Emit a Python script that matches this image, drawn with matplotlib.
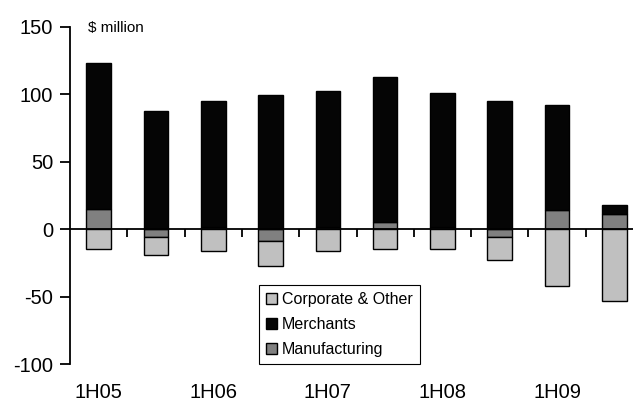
import matplotlib
matplotlib.use("Agg")
import matplotlib.pyplot as plt
import numpy as np

periods = ["1H05", "2H05", "1H06", "2H06", "1H07", "2H07", "1H08", "2H08", "1H09", "2H09"]
merchants = [108, 88, 93, 99.5, 100.5, 108, 99, 95, 78, 7]
manufacturing = [15, -6, 2, -9, 2, 5, 2, -6, 14, 11]
corporate = [-15, -13, -16, -18, -16, -15, -15, -16.5, -42, -53]
yticks = [-100, -50, 0, 50, 100, 150]

plt.rcParams["font.family"] = ["Liberation Sans", "DejaVu Sans"]
plt.rcParams["axes.unicode_minus"] = False

fig = plt.figure(figsize=(6.33, 4.03), dpi=100)
ax = fig.add_axes([70 / 633, 39 / 403, 573 / 633, 337 / 403])

x = np.arange(len(periods))
manu = np.array(manufacturing, dtype=float)
merch = np.array(merchants, dtype=float)
corp = np.array(corporate, dtype=float)

# stacking: manufacturing next to zero, merchants above it, corporate below
w = 0.43
ec = dict(edgecolor="black", linewidth=1.0)
b_manu = ax.bar(x, manu, w, color="#808080", **ec)
merch_base = np.where(manu > 0, manu, 0)
b_merch = ax.bar(x, merch, w, bottom=merch_base, color="#050505", **ec)
corp_base = np.where(manu < 0, manu, 0)
b_corp = ax.bar(x, corp, w, bottom=corp_base, color="#c0c0c0", **ec)

ax.set_xlim(-0.5, len(periods) - 0.5)
ax.set_ylim(-100, 150)
ax.set_yticks(yticks)
ax.tick_params(axis="y", direction="out", length=7, width=1.3, labelsize=14.5, pad=5)

for s in ["top", "right"]:
    ax.spines[s].set_visible(False)
ax.spines["left"].set_linewidth(1.3)
ax.spines["bottom"].set_position(("data", 0))
ax.spines["bottom"].set_linewidth(1.3)
ax.spines["bottom"].set_zorder(5)
ax.set_xticks(x[:-1] + 0.5)
ax.set_xticklabels([])
ax.tick_params(axis="x", direction="out", length=6, width=1.3)

for i in range(0, len(periods), 2):
    ax.annotate(periods[i], xy=(x[i], -100), xytext=(0, -14), textcoords="offset points",
                ha="center", va="top", fontsize=14.5, annotation_clip=False)

ax.text(18 / 573, 0.997, "$ million", transform=ax.transAxes, fontsize=11,
        ha="left", va="center")

leg = ax.legend([b_corp, b_merch, b_manu], ["Corporate & Other", "Merchants", "Manufacturing"],
                loc="upper left", bbox_to_anchor=(259 / 633, 1 - 285 / 403),
                bbox_transform=fig.transFigure, borderaxespad=0, fancybox=False,
                framealpha=1, edgecolor="black", fontsize=11.5, handlelength=0.65,
                handleheight=0.65, handletextpad=0.35, labelspacing=0.62, borderpad=0.45)
leg.get_frame().set_linewidth(0.8)

fig.savefig("out.png", dpi=100)
